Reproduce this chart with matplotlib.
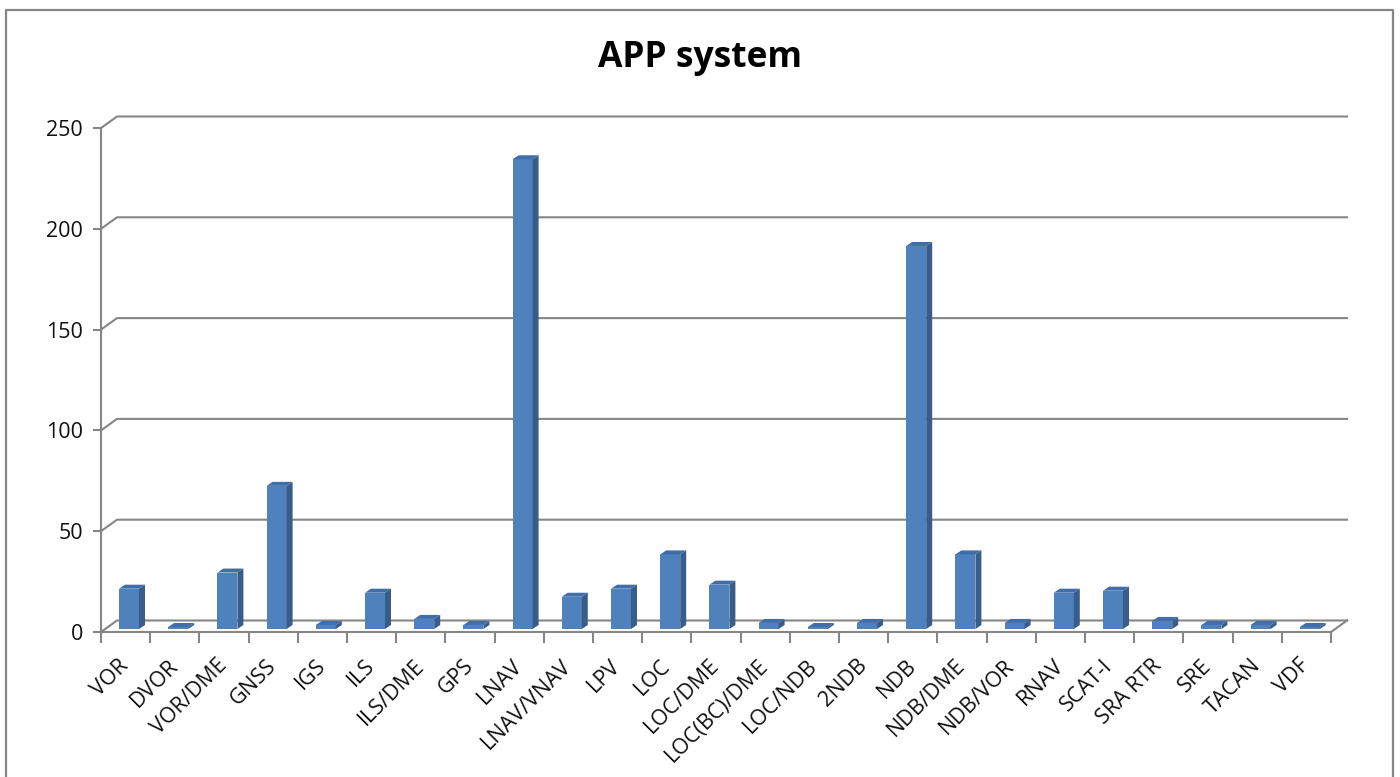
import numpy as np
import matplotlib
matplotlib.use("Agg")
from matplotlib import pyplot as plt
from matplotlib.patches import Polygon
from matplotlib.lines import Line2D

# approach systems and number of procedures using each
systems = ["VOR", "DVOR", "VOR/DME", "GNSS", "IGS", "ILS", "ILS/DME", "GPS",
           "LNAV", "LNAV/VNAV", "LPV", "LOC", "LOC/DME", "LOC(BC)/DME",
           "LOC/NDB", "2NDB", "NDB", "NDB/DME", "NDB/VOR", "RNAV", "SCAT-I",
           "SRA RTR", "SRE", "TACAN", "VDF"]
counts = [20, 1, 28, 71, 2, 18, 5, 2,
          233, 16, 20, 37, 22, 3,
          1, 3, 190, 37, 3, 18, 19,
          4, 2, 2, 1]
y_ticks = [0, 50, 100, 150, 200, 250]

W_PX, H_PX = 1400, 777
plt.rcParams["font.family"] = ["Open Sans", "DejaVu Sans"]

# pixel scale of the plot: one category and one unit of value
px_cat = 49.2
px_val = 2.016

# fake 3d depth of the floor / walls and of each bar
wall_dx = 16 / px_cat
wall_dy = 11.5 / px_val
bar_x0 = 18 / px_cat
bar_w = 20 / px_cat
bar_base = 3 / px_val
bar_dx = 6 / px_cat
bar_dy = 4 / px_val

front = "#4f81bd"
side = "#385d8a"
top = "#3f6ea8"
grey = "#868686"

fig = plt.figure(figsize=(W_PX / 100, H_PX / 100), dpi=100)

left_px, right_px, top_px, bot_px = 101, 1361, 110, 640
ax = fig.add_axes([left_px / W_PX, 1 - bot_px / H_PX,
                   (right_px - left_px) / W_PX, (bot_px - top_px) / H_PX])
ax.set_xlim(0, (right_px - left_px) / px_cat)
ax.set_ylim(-(bot_px - 632) / px_val, 250 + (128 - top_px) / px_val)
ax.patch.set_visible(False)

n = len(systems)

# back gridlines with the little diagonal joining them to the front axis
for v in y_ticks:
    ax.plot([0, wall_dx, n + wall_dx], [v, v + wall_dy, v + wall_dy],
            color=grey, lw=1.5, zorder=1, clip_on=False)
# right edge of the floor
ax.plot([n, n + wall_dx], [0, wall_dy], color=grey, lw=1.5, zorder=1, clip_on=False)

# bars: front face from ax.bar, top and side faces as polygons
xs = np.arange(n) + bar_x0
ax.bar(xs, counts, width=bar_w, bottom=bar_base, align="edge",
       color=front, edgecolor="none", zorder=3)
for x, v in zip(xs, counts):
    t = bar_base + v
    ax.add_patch(Polygon([(x, t), (x + bar_w, t), (x + bar_w + bar_dx, t + bar_dy),
                          (x + bar_dx, t + bar_dy)], closed=True,
                         facecolor=top, edgecolor="none", zorder=3))
    ax.add_patch(Polygon([(x + bar_w, bar_base), (x + bar_w + bar_dx, bar_base + bar_dy),
                          (x + bar_w + bar_dx, t + bar_dy), (x + bar_w, t)], closed=True,
                         facecolor=side, edgecolor="none", zorder=3))

# axes lines
for s in ["top", "right"]:
    ax.spines[s].set_visible(False)
ax.spines["left"].set_bounds(0, 250)
ax.spines["left"].set_color(grey)
ax.spines["left"].set_linewidth(1.5)
ax.spines["bottom"].set_position(("data", 0))
ax.spines["bottom"].set_bounds(0, n)
ax.spines["bottom"].set_color(grey)
ax.spines["bottom"].set_linewidth(1.5)

ax.set_yticks(y_ticks)
ax.tick_params(axis="y", length=6, width=1.5, color=grey, pad=7,
               labelsize=15.5, labelcolor="#111111")

ax.set_xticks(np.arange(n) + 0.5)
ax.set_xticklabels(systems, rotation=45, ha="right", va="center",
                   rotation_mode="anchor")
ax.set_xticks(np.arange(n + 1), minor=True)
ax.tick_params(axis="x", which="major", length=0, pad=22,
               labelsize=15.5, labelcolor="#111111")
ax.tick_params(axis="x", which="minor", length=8, width=1.5, color=grey)

fig.text(700 / W_PX, 1 - 67 / H_PX, "APP system", ha="center", va="baseline",
         fontsize=25.5, fontweight="bold", color="black")

# chart border
fig.add_artist(Line2D([6 / W_PX, 6 / W_PX, 1393 / W_PX, 1393 / W_PX],
                      [0, 1 - 10 / H_PX, 1 - 10 / H_PX, 0],
                      transform=fig.transFigure, color=grey, lw=1.6))

fig.savefig("out.png", dpi=100)
